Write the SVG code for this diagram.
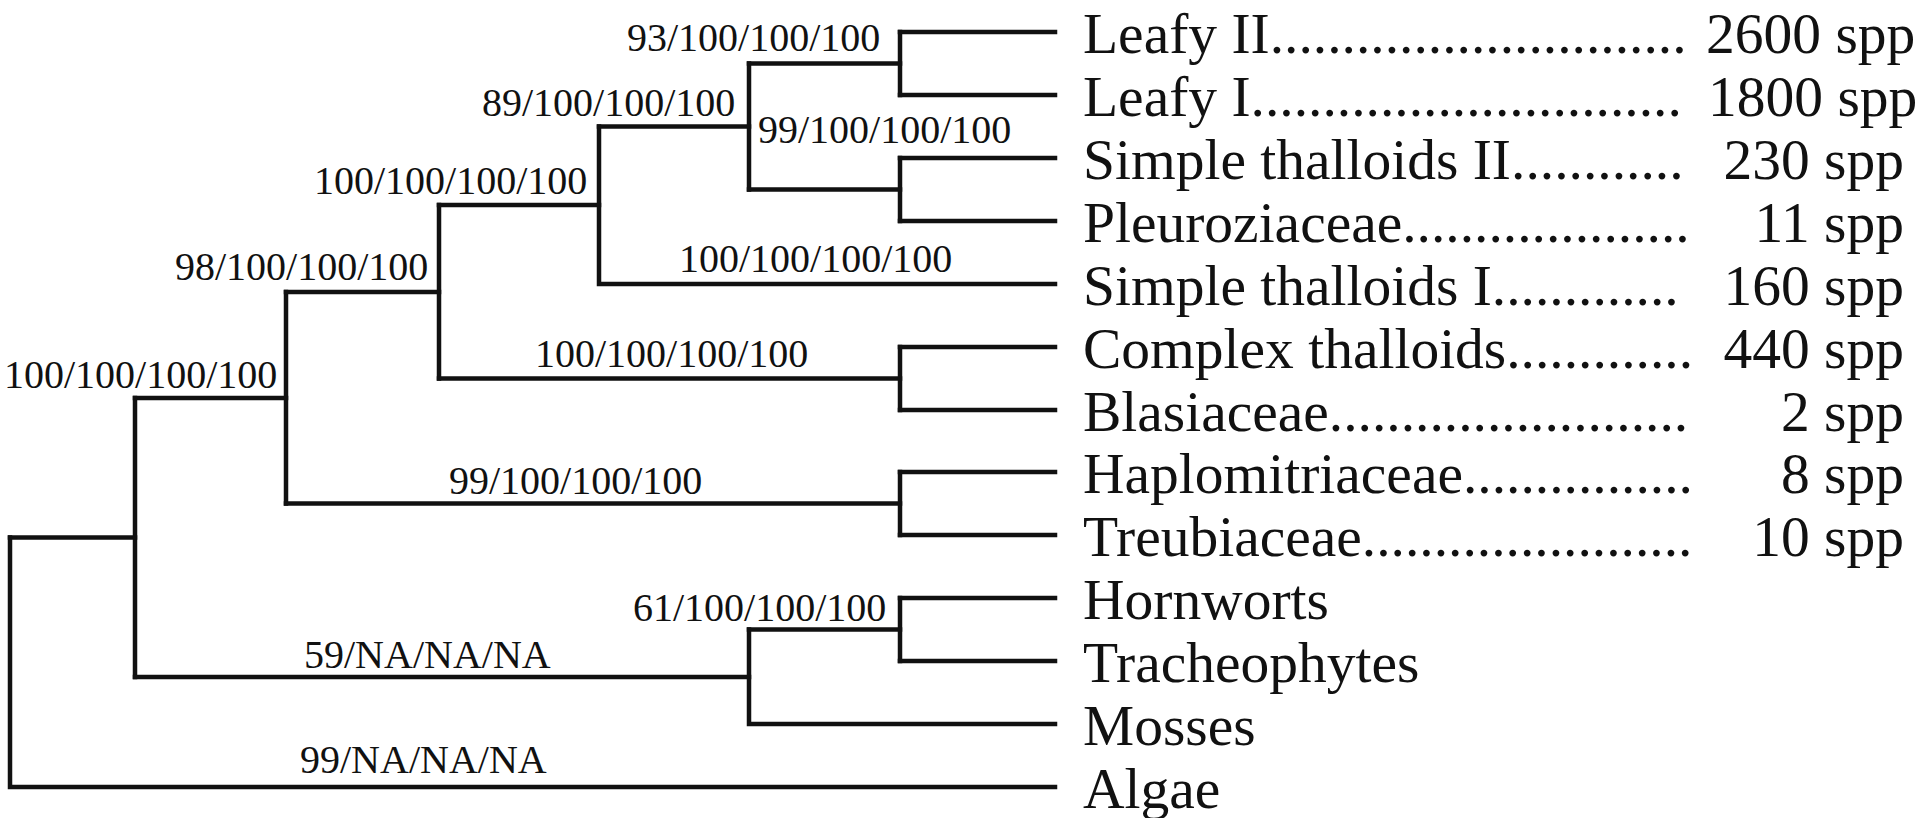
<svg xmlns="http://www.w3.org/2000/svg" width="1920" height="818" viewBox="0 0 1920 818">
<style>
.br{fill:none;stroke:#111;stroke-width:4.5;stroke-linecap:square}
.bs{font-family:"Liberation Serif","Times New Roman",serif;font-size:40px;fill:#111}
.lf{font-family:"Liberation Serif","Times New Roman",serif;font-size:57.5px;fill:#111}
.ct{text-anchor:end}
</style>
<rect width="1920" height="818" fill="#fff"/>
<g id="connectors">
<path class="br" d="M10 537.5V787H1055"/>
<path class="br" d="M10 537.5H135"/>
<path class="br" d="M135 398V677"/>
<path class="br" d="M135 677H749"/>
<path class="br" d="M749 629.5V724H1055"/>
<path class="br" d="M749 629.5H900"/>
<path class="br" d="M900 598V661"/>
<path class="br" d="M900 598H1055M900 661H1055"/>
<path class="br" d="M135 398H286"/>
<path class="br" d="M286 292V503.5"/>
<path class="br" d="M286 503.5H900"/>
<path class="br" d="M900 472V535"/>
<path class="br" d="M900 472H1055M900 535H1055"/>
<path class="br" d="M286 292H439"/>
<path class="br" d="M439 205V378.5"/>
<path class="br" d="M439 378.5H900"/>
<path class="br" d="M900 347V410"/>
<path class="br" d="M900 347H1055M900 410H1055"/>
<path class="br" d="M439 205H599"/>
<path class="br" d="M599 126.5V284H1055"/>
<path class="br" d="M599 126.5H749"/>
<path class="br" d="M749 63.5V189.5"/>
<path class="br" d="M749 63.5H900M749 189.5H900"/>
<path class="br" d="M900 32V95"/>
<path class="br" d="M900 32H1055M900 95H1055"/>
<path class="br" d="M900 158V221"/>
<path class="br" d="M900 158H1055M900 221H1055"/>
</g>
<g id="support-labels">
<g id="n-root"><text class="bs" x="300" y="773">99/NA/NA/NA</text></g>
<g id="n-a"><text class="bs" x="4" y="388">100/100/100/100</text></g>
<g id="n-k"><text class="bs" x="304" y="668">59/NA/NA/NA</text></g>
<g id="n-j"><text class="bs" x="633" y="621">61/100/100/100</text></g>
<g id="n-b"><text class="bs" x="175" y="280">98/100/100/100</text></g>
<g id="n-i"><text class="bs" x="449" y="494">99/100/100/100</text></g>
<g id="n-c"><text class="bs" x="314" y="194">100/100/100/100</text></g>
<g id="n-h"><text class="bs" x="535" y="367">100/100/100/100</text></g>
<g id="n-d"><text class="bs" x="482" y="116">89/100/100/100</text></g>
<g id="n-simple1"><text class="bs" x="679" y="272">100/100/100/100</text></g>
<g id="n-e"><text class="bs" x="627" y="51">93/100/100/100</text></g>
<g id="n-g"><text class="bs" x="758" y="143">99/100/100/100</text></g>
</g>
<g id="leaf-leafy2"><text class="lf" x="1083" y="53">Leafy II.............................</text><text class="lf" x="1706" y="53">2600 spp</text></g>
<g id="leaf-leafy1"><text class="lf" x="1083" y="116">Leafy I..............................</text><text class="lf" x="1708" y="116">1800 spp</text></g>
<g id="leaf-simple2"><text class="lf" x="1083" y="179">Simple thalloids II............</text><text class="lf ct" x="1904" y="179">230 spp</text></g>
<g id="leaf-pleuro"><text class="lf" x="1083" y="242">Pleuroziaceae....................</text><text class="lf ct" x="1904" y="242">11 spp</text></g>
<g id="leaf-simple1"><text class="lf" x="1083" y="305">Simple thalloids I.............</text><text class="lf ct" x="1904" y="305">160 spp</text></g>
<g id="leaf-complex"><text class="lf" x="1083" y="368">Complex thalloids.............</text><text class="lf ct" x="1904" y="368">440 spp</text></g>
<g id="leaf-blasia"><text class="lf" x="1083" y="431">Blasiaceae.........................</text><text class="lf ct" x="1904" y="431">2 spp</text></g>
<g id="leaf-haplo"><text class="lf" x="1083" y="493">Haplomitriaceae................</text><text class="lf ct" x="1904" y="493">8 spp</text></g>
<g id="leaf-treubia"><text class="lf" x="1083" y="556">Treubiaceae.......................</text><text class="lf ct" x="1904" y="556">10 spp</text></g>
<g id="leaf-hornworts"><text class="lf" x="1083" y="619">Hornworts</text></g>
<g id="leaf-tracheo"><text class="lf" x="1083" y="682">Tracheophytes</text></g>
<g id="leaf-mosses"><text class="lf" x="1083" y="745">Mosses</text></g>
<g id="leaf-algae"><text class="lf" x="1083" y="808">Algae</text></g>
</svg>
